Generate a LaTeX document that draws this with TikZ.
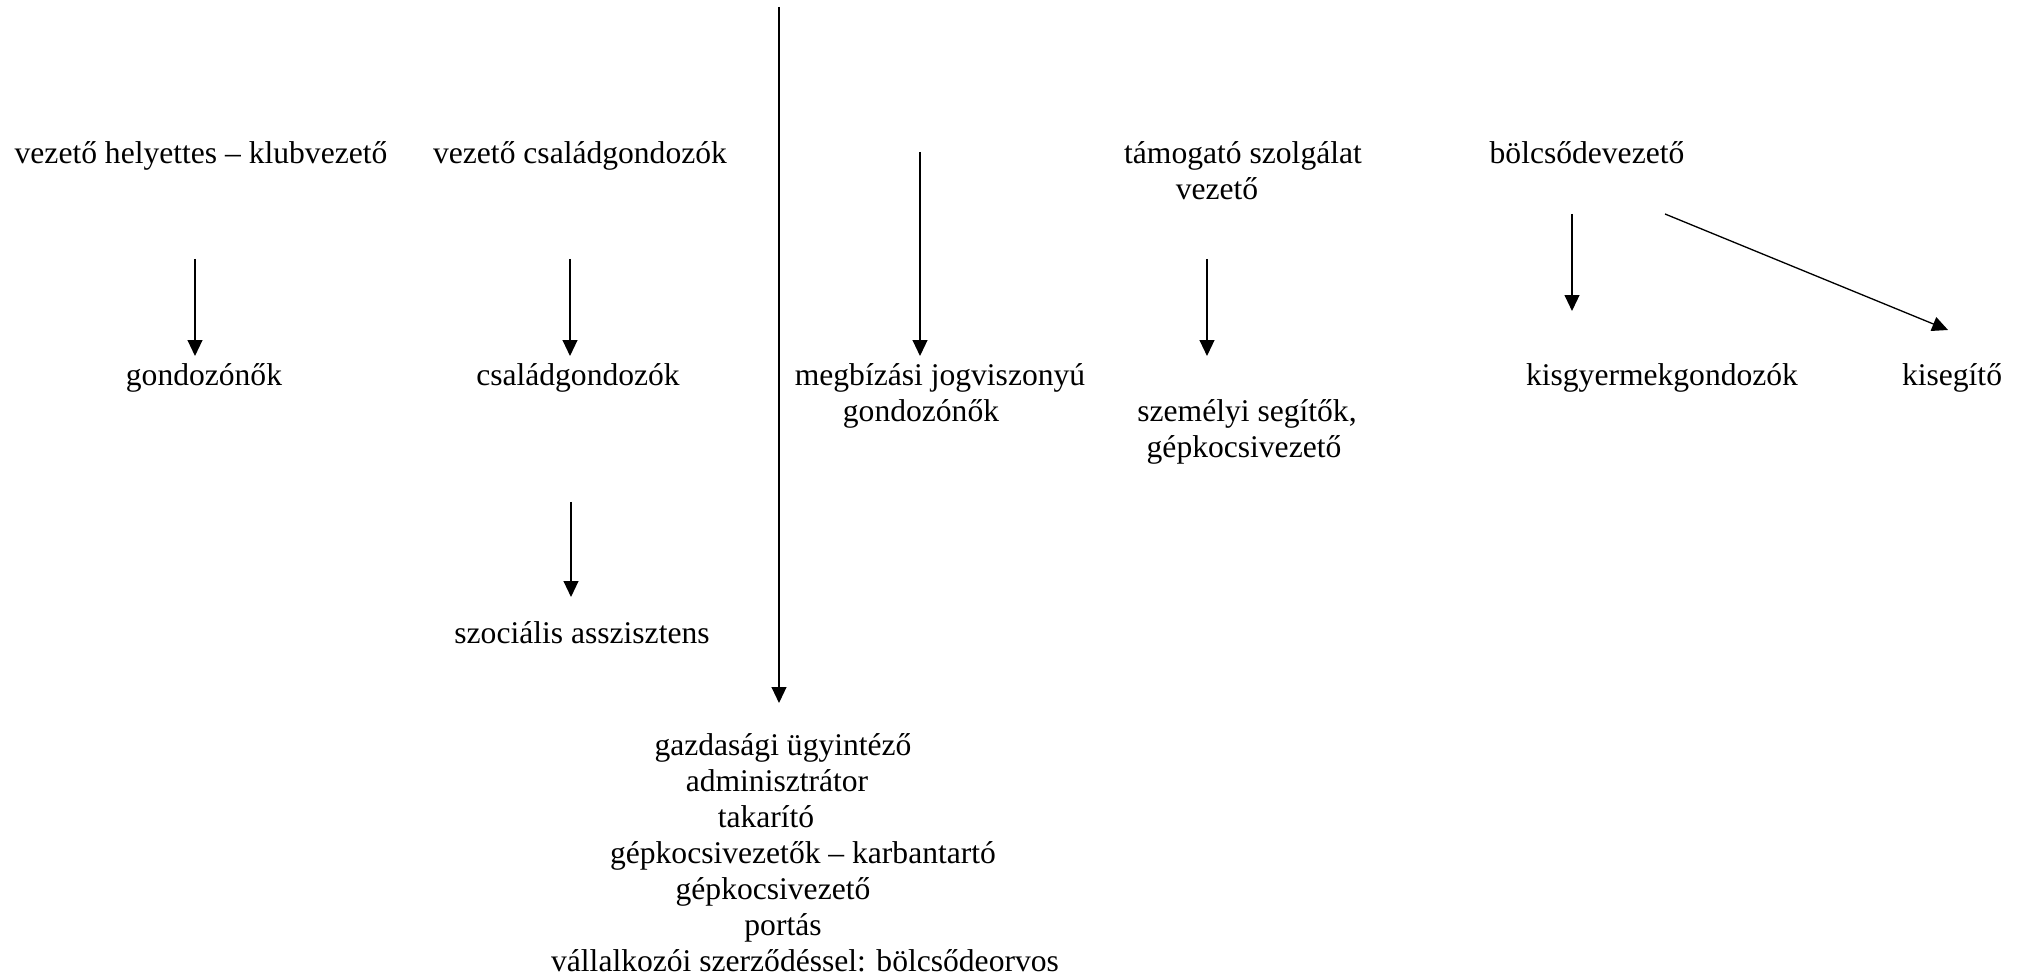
\documentclass[tikz,border=0pt]{standalone}
\usepackage{fontspec}
\setmainfont{Liberation Serif}
\usetikzlibrary{arrows.meta}
\begin{document}
\begin{tikzpicture}[x=0.38pt,y=-0.38pt,
  lbl/.style={anchor=base,inner sep=0pt,font=\fontsize{12pt}{14pt}\selectfont},
  arr/.style={line width=0.5pt,-{Triangle[length=6pt,width=5.6pt]}}]
\useasboundingbox (0,0) rectangle (2027,980);
% top row
\node[lbl] (vh) at (201,164) {vezető helyettes – klubvezető};
\node[lbl] (vc) at (580,164) {vezető családgondozók};
\node[lbl] (ts) at (1243,164) {támogató szolgálat};
\node[lbl] (tsv) at (1217,200) {vezető};
\node[lbl] (bv) at (1587,164) {bölcsődevezető};
% second row
\node[lbl] (gn) at (204,386) {gondozónők};
\node[lbl] (cs) at (578,386) {családgondozók};
\node[lbl] (mj) at (940,386) {megbízási jogviszonyú};
\node[lbl] (mjg) at (921,422) {gondozónők};
\node[lbl] (ss) at (1247,422) {személyi segítők,};
\node[lbl] (ssg) at (1244,458) {gépkocsivezető};
\node[lbl] (kg) at (1662,386) {kisgyermekgondozók};
\node[lbl] (ks) at (1952,386) {kisegítő};
% third row
\node[lbl] (sz) at (582,643) {szociális asszisztens};
% bottom block
\node[lbl] (b1) at (783,755) {gazdasági ügyintéző};
\node[lbl] (b2) at (777,791) {adminisztrátor};
\node[lbl] (b3) at (766,827) {takarító};
\node[lbl] (b4) at (803,863) {gépkocsivezetők – karbantartó};
\node[lbl] (b5) at (773,899) {gépkocsivezető};
\node[lbl] (b6) at (783,935) {portás};
\node[lbl] (b7) at (805,971) {vállalkozói szerződéssel: bölcsődeorvos};
% connector end points
\coordinate (top) at (779,7);
\coordinate (topE) at (779,703);
\coordinate (a1s) at (195,259); \coordinate (a1e) at (195,356);
\coordinate (a2s) at (570,259); \coordinate (a2e) at (570,356);
\coordinate (a3s) at (571,502); \coordinate (a3e) at (571,597);
\coordinate (a4s) at (920,152); \coordinate (a4e) at (920,356);
\coordinate (a5s) at (1207,259); \coordinate (a5e) at (1207,356);
\coordinate (a6s) at (1572,214); \coordinate (a6e) at (1572,311);
\coordinate (a7s) at (1665,214); \coordinate (a7e) at (1948,330);
% connectors
\draw[arr] (top) -- (topE);
\draw[arr] (a1s) -- (a1e);
\draw[arr] (a2s) -- (a2e);
\draw[arr] (a3s) -- (a3e);
\draw[arr] (a4s) -- (a4e);
\draw[arr] (a5s) -- (a5e);
\draw[arr] (a6s) -- (a6e);
\draw[arr] (a7s) -- (a7e);
\end{tikzpicture}
\end{document}
